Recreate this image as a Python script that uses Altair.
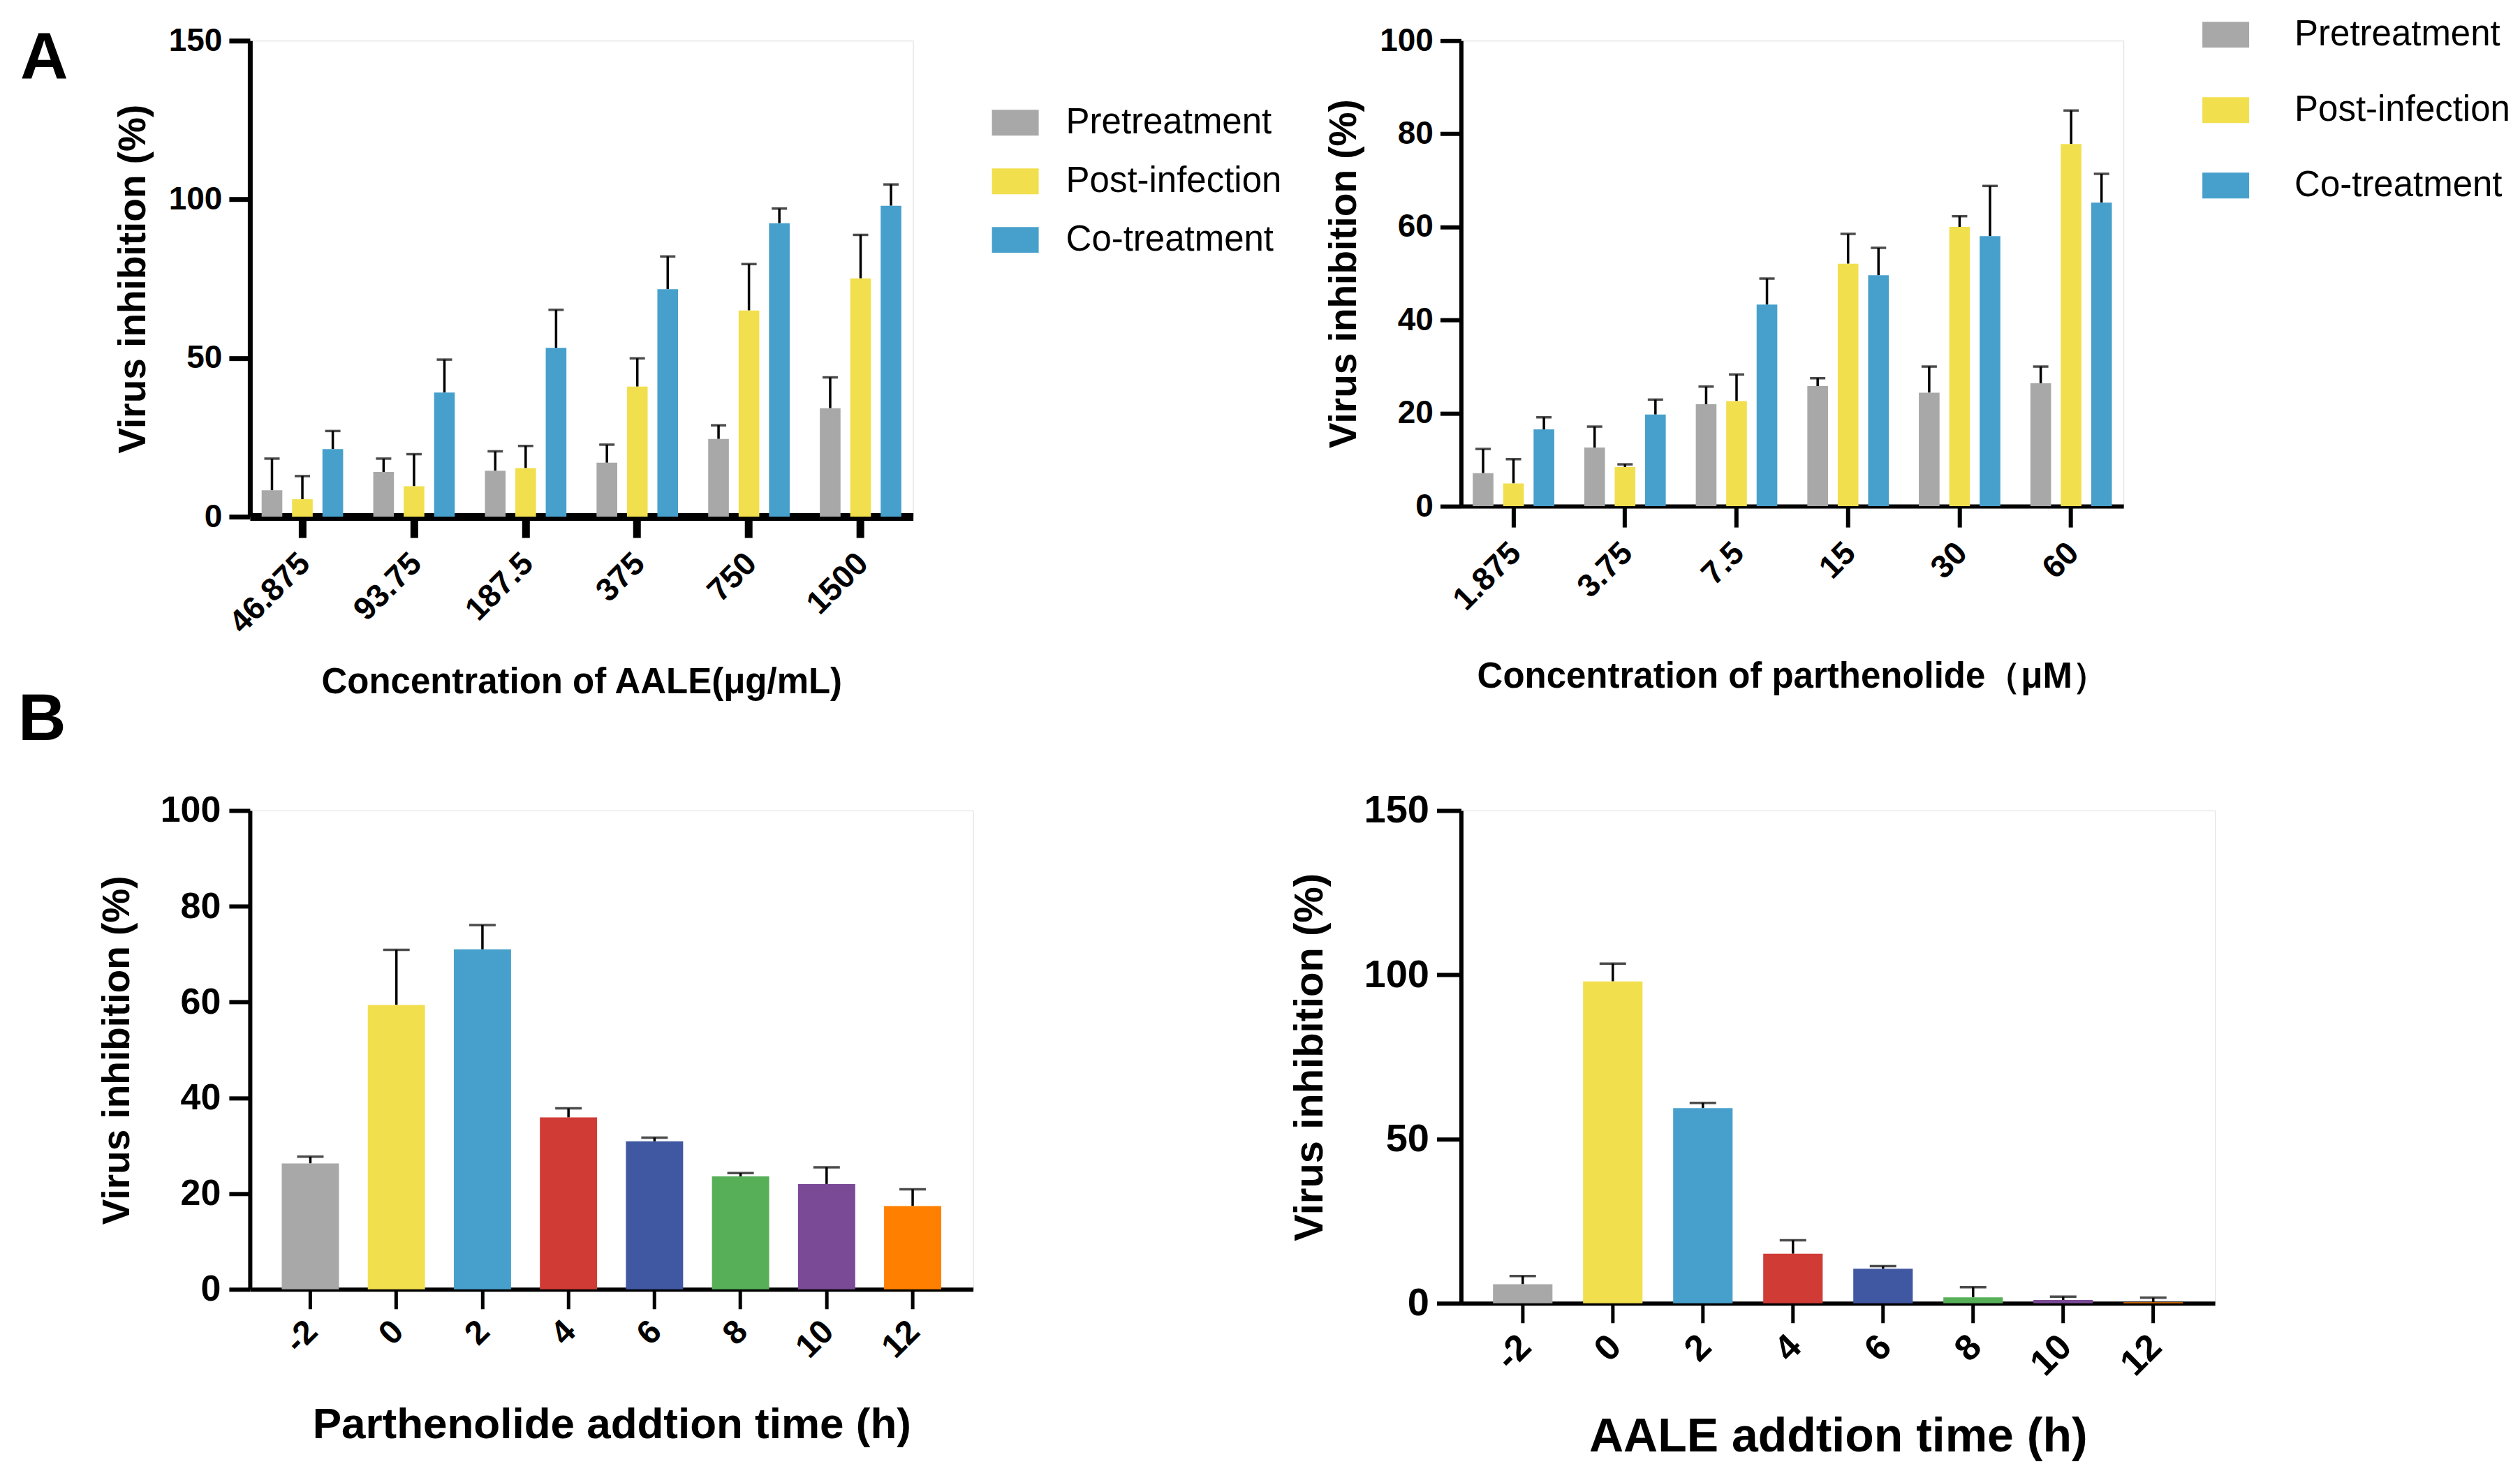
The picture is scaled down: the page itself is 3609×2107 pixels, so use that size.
import altair as alt
import pandas as pd

FONT = "Liberation Sans, Arial, sans-serif"

treatments = ["Pretreatment", "Post-infection", "Co-treatment"]
treat_colors = ["#A8A8A8", "#F2DF4E", "#47A0CC"]

aale_conc = ["46.875", "93.75", "187.5", "375", "750", "1500"]
aale_pre = [8.3, 14.1, 14.5, 17.0, 24.5, 34.2]
aale_pre_err = [18.3, 18.3, 20.6, 22.7, 28.8, 43.9]
aale_post = [5.5, 9.6, 15.3, 41.0, 65.0, 75.1]
aale_post_err = [12.8, 19.7, 22.3, 49.9, 79.6, 88.8]
aale_co = [21.3, 39.1, 53.2, 71.7, 92.5, 98.0]
aale_co_err = [27.0, 49.5, 65.2, 82.0, 97.1, 104.7]

par_conc = ["1.875", "3.75", "7.5", "15", "30", "60"]
par_pre = [7.1, 12.6, 21.9, 25.8, 24.4, 26.4]
par_pre_err = [12.3, 17.1, 25.7, 27.5, 30.0, 30.0]
par_post = [4.9, 8.4, 22.6, 52.1, 60.0, 77.8]
par_post_err = [10.1, 9.0, 28.3, 58.5, 62.3, 85.0]
par_co = [16.5, 19.7, 43.3, 49.6, 58.0, 65.2]
par_co_err = [19.1, 22.9, 48.9, 55.5, 68.8, 71.4]

times = ["-2", "0", "2", "4", "6", "8", "10", "12"]
time_colors = ["#A8A8A8", "#F2DF4E", "#47A0CC", "#D03B36", "#4057A2",
               "#57AF58", "#7B4A97", "#FF8000"]
par_time = [26.3, 59.4, 71.0, 35.9, 30.9, 23.6, 22.0, 17.4]
par_time_err = [27.7, 70.9, 76.1, 37.8, 31.7, 24.3, 25.5, 20.9]
aale_time = [5.8, 98.0, 59.4, 15.1, 10.5, 1.8, 1.0, 0.3]
aale_time_err = [8.3, 103.4, 61.0, 19.2, 11.3, 4.9, 2.0, 1.7]

RECT = "M-1,-0.55L1,-0.55L1,0.55L-1,0.55Z"


def y_axis(ymax, ystep, dom_w, tick_len, lab_pad, lab_size, title_size,
           title_pad):
    return alt.Axis(values=list(range(0, ymax + 1, ystep)), grid=False,
                    domainColor="black", domainWidth=dom_w, tickColor="black",
                    tickWidth=dom_w, tickSize=tick_len, labelPadding=lab_pad,
                    labelFont=FONT, labelFontSize=lab_size,
                    labelFontWeight="bold", labelColor="black",
                    titleFont=FONT, titleFontSize=title_size,
                    titleFontWeight="bold", titleColor="black",
                    titlePadding=title_pad)


def x_axis(dom_w, tick_w, tick_len, lab_size, lab_pad, lab_off, title_size,
           title_pad):
    return alt.Axis(labelAngle=-45, grid=False, domainColor="black",
                    domainWidth=dom_w, tickColor="black", tickWidth=tick_w,
                    tickSize=tick_len, labelPadding=lab_pad,
                    labelOffset=lab_off, labelFont=FONT,
                    labelFontSize=lab_size, labelFontWeight="bold",
                    labelColor="black", titleFont=FONT,
                    titleFontSize=title_size, titleFontWeight="bold",
                    titleColor="black", titlePadding=title_pad)


def grouped(conc, series, errs, ymax, ystep, w, h, xtitle, xtitle_pad,
            lx, ly, row_pad, lab_off, xdom_w, ydom_w, letter=None):
    rows = []
    for t, vals, es in zip(treatments, series, errs):
        for c, v, e in zip(conc, vals, es):
            rows.append({"conc": c, "treatment": t, "value": v, "err": e})
    df = pd.DataFrame(rows)
    base = alt.Chart(df)
    x = alt.X("conc:N", sort=conc, title=xtitle,
              scale=alt.Scale(paddingInner=0.27, paddingOuter=0.105),
              axis=x_axis(xdom_w, xdom_w, 30, 46, 14, -12, 51, xtitle_pad))
    xo = alt.XOffset("treatment:N", sort=treatments,
                     scale=alt.Scale(paddingInner=0.32))
    y = alt.Y("value:Q", title="Virus inhibition (%)",
              scale=alt.Scale(domain=[0, ymax], nice=False),
              axis=y_axis(ymax, ystep, ydom_w, 30, 10, 46, 55, 22))
    color = alt.Color("treatment:N", sort=treatments,
                      scale=alt.Scale(domain=treatments, range=treat_colors),
                      legend=alt.Legend(title=None, orient="none", legendX=lx,
                                        legendY=ly, symbolType=RECT,
                                        symbolSize=4489, symbolStrokeWidth=0,
                                        symbolOpacity=1, labelFont=FONT,
                                        labelFontSize=51, labelColor="black",
                                        labelLimit=0, rowPadding=row_pad,
                                        labelOffset=lab_off, padding=0))
    bars = base.mark_bar().encode(x=x, xOffset=xo, y=y, color=color)
    rule = base.mark_rule(color="black", strokeWidth=3.5).encode(
        x=x, xOffset=xo, y="value:Q", y2="err:Q")
    cap = base.mark_tick(color="black", thickness=3.5, size=22,
                         orient="horizontal").encode(x=x, xOffset=xo, y="err:Q")
    props = dict(width=w, height=h)
    if letter is not None:
        props["title"] = letter
    return alt.layer(rule, cap, bars).properties(**props)


def single(vals, errs, ymax, ystep, w, h, xtitle, pi, po, xlab, xtitle_size,
           xtitle_pad, ytick, ylab_pad, ylab, ytitle, ytitle_pad, letter=None):
    df = pd.DataFrame({"time": times, "value": vals, "err": errs})
    base = alt.Chart(df)
    x = alt.X("time:N", sort=times, title=xtitle,
              scale=alt.Scale(paddingInner=pi, paddingOuter=po),
              axis=x_axis(6, 5, 28, xlab, 8, -14, xtitle_size, xtitle_pad))
    y = alt.Y("value:Q", title="Virus inhibition (%)",
              scale=alt.Scale(domain=[0, ymax], nice=False),
              axis=y_axis(ymax, ystep, 6, ytick, ylab_pad, ylab, ytitle,
                          ytitle_pad))
    color = alt.Color("time:N", sort=times,
                      scale=alt.Scale(domain=times, range=time_colors),
                      legend=None)
    bars = base.mark_bar().encode(x=x, y=y, color=color)
    rule = base.mark_rule(color="black", strokeWidth=3.5).encode(
        x=x, y="value:Q", y2="err:Q")
    cap = base.mark_tick(color="black", thickness=3.5, size=38,
                         orient="horizontal").encode(x=x, y="err:Q")
    props = dict(width=w, height=h)
    if letter is not None:
        props["title"] = letter
    return alt.layer(rule, cap, bars).properties(**props)


title_a = alt.TitleParams("A", anchor="start", frame="group", fontSize=95,
                          fontWeight="bold", font=FONT, color="black",
                          dx=-329, dy=98, offset=0)
title_b = alt.TitleParams("B", anchor="start", frame="group", fontSize=95,
                          fontWeight="bold", font=FONT, color="black",
                          dx=-332, offset=55)

a_left = grouped(aale_conc, [aale_pre, aale_post, aale_co],
                 [aale_pre_err, aale_post_err, aale_co_err], 150, 50, 950, 682,
                 "Concentration of AALE(μg/mL)", 37, 1063, 84, 25, 39, 11, 7,
                 letter=title_a)
a_right = grouped(par_conc, [par_pre, par_post, par_co],
                  [par_pre_err, par_post_err, par_co_err], 100, 20, 949, 667,
                  "Concentration of parthenolide（μM）", 62, 1062, -42, 49, 65,
                  6, 6)
b_left = single(par_time, par_time_err, 100, 20, 1036, 686,
                "Parthenolide addtion time (h)", 0.335, 0.37, 48, 62, 56,
                30, 12, 52, 55, 33, letter=title_b)
b_right = single(aale_time, aale_time_err, 150, 50, 1080, 706,
                 "AALE addtion time (h)", 0.34, 0.355, 52, 68, 45,
                 35, 11, 56, 58, 48)

chart = alt.concat(
    a_left, a_right, b_left, b_right, columns=2,
    spacing={"row": 421, "column": 699}, bounds="flush"
).resolve_scale(color="independent").properties(
    padding={"left": 17, "top": 7, "right": 5, "bottom": 5}
).configure_view(stroke=None).configure(background="white")

chart.save("out.html", embed_options={"renderer": "svg", "actions": False})
